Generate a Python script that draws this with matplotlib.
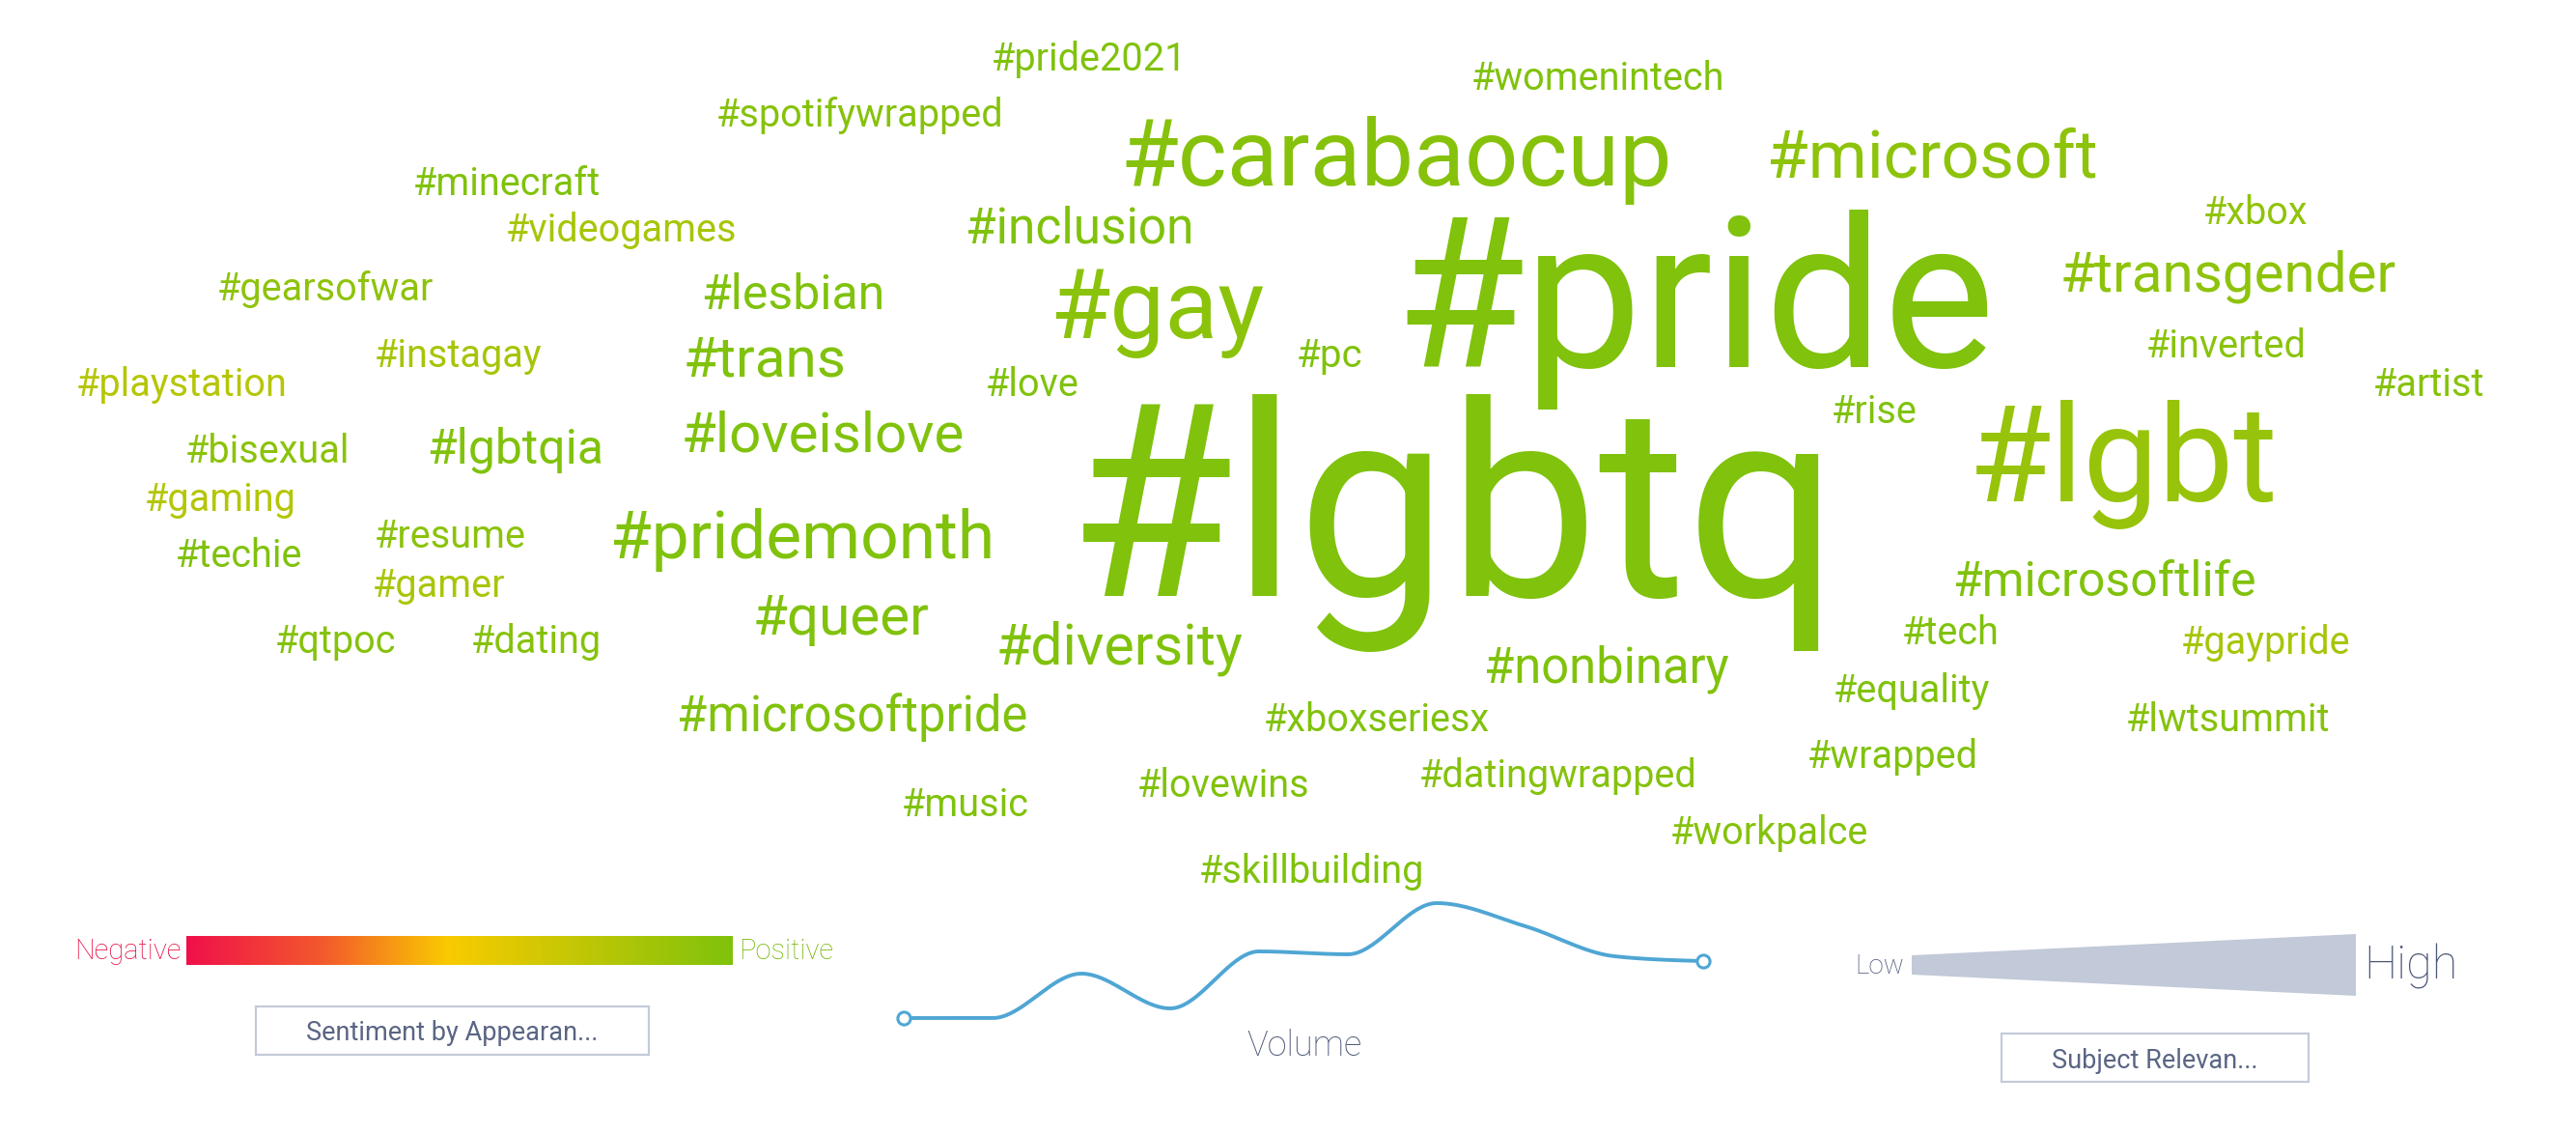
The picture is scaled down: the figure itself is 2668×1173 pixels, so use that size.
import numpy as np
import matplotlib
matplotlib.use("Agg")
import matplotlib.pyplot as plt
from matplotlib.colors import LinearSegmentedColormap
from matplotlib.patches import Rectangle, Polygon

# ---------------- data ----------------
words = ["#lgbtq", "#pride", "#lgbt", "#carabaocup", "#gay", "#microsoft",
         "#pridemonth", "#transgender", "#trans", "#loveislove", "#diversity",
         "#queer", "#inclusion", "#lesbian", "#lgbtqia", "#nonbinary",
         "#microsoftpride", "#microsoftlife",
         "#pride2021", "#womenintech", "#spotifywrapped", "#minecraft",
         "#videogames", "#xbox", "#gearsofwar", "#instagay", "#pc", "#inverted",
         "#playstation", "#love", "#artist", "#rise", "#bisexual", "#gaming",
         "#resume", "#techie", "#gamer", "#tech", "#qtpoc", "#dating",
         "#gaypride", "#equality", "#xboxseriesx", "#lwtsummit", "#wrapped",
         "#datingwrapped", "#lovewins", "#music", "#workpalce", "#skillbuilding"]

relevance = [200, 157, 100, 70, 73, 50,
             50, 42, 42, 42, 42.5,
             42, 37, 36, 36, 36.5,
             36.5, 36,
             28.5, 28.5, 28.5, 28.5,
             28.5, 28.5, 28.5, 28.5, 29, 28.5,
             28.5, 28.5, 28.5, 28.5, 28.5, 28.5,
             28.5, 28.5, 28.5, 28.5, 28.5, 28.5,
             28.5, 28.5, 28.5, 28.5, 28.5,
             28.5, 28.5, 28.5, 28.5, 28.5]

sentiment = [1.0, 1.0, 0.90, 0.97, 0.95, 0.94,
             1.0, 0.94, 1.0, 1.0, 1.0,
             1.0, 1.0, 1.0, 1.0, 1.0,
             1.0, 1.0,
             1.0, 1.0, 0.97, 1.0,
             0.83, 0.93, 0.94, 0.84, 1.0, 0.96,
             0.77, 1.0, 0.97, 1.0, 0.95, 0.78,
             0.95, 1.0, 0.82, 1.0, 0.98, 0.97,
             0.83, 1.0, 1.0, 0.97, 1.0,
             0.98, 1.0, 1.0, 0.98, 1.0]

volume = [0, 0, 46, 10, 69, 66, 119, 95, 64, 59]

# ---------------- layout (pixel positions: centre x, baseline y) ----------------
layout_x = [1505, 1755, 2199, 1446, 1198, 2001,
            831, 2308, 792, 852, 1160,
            871, 1118, 821, 534, 1664,
            883, 2179,
            1128, 1655, 891, 525,
            644, 2336, 337, 475, 1377, 2306,
            188, 1069, 2515, 1941, 277, 228,
            466, 248, 455, 2020, 347, 555,
            2347, 1980, 1426, 2307, 1960,
            1614, 1267, 1000, 1832, 1358]
layout_y = [617, 380, 519, 192, 350, 183,
            578, 302, 390, 468, 687,
            657, 251, 320, 479, 707,
            757, 617,
            73, 93, 131, 202,
            250, 232, 311, 380, 380, 370,
            410, 410, 410, 438, 479, 529,
            567, 587, 618, 667, 676, 676,
            677, 727, 757, 757, 795,
            815, 825, 845, 874, 914]

W, H = 2668, 1173
plt.rcParams['font.family'] = ['Roboto', 'DejaVu Sans']

cmap = LinearSegmentedColormap.from_list(
    "sent", [(0.0, "#f0104a"), (0.25, "#f35a2c"), (0.48, "#f9cb00"), (1.0, "#80c20c")])

fig = plt.figure(figsize=(W / 100, H / 100), dpi=100)
fig.patch.set_facecolor("white")
ax = fig.add_axes([0, 0, 1, 1])
ax.set_xlim(0, W)
ax.set_ylim(H, 0)
ax.axis("off")

for w, r, s, x, y in zip(words, relevance, sentiment, layout_x, layout_y):
    ax.text(x, y, w, fontsize=r, color=cmap(s), ha="center", va="baseline",
            fontweight="normal")

# ---------------- sentiment legend ----------------
grad = np.linspace(0, 1, 512).reshape(1, -1)
ax.imshow(grad, cmap=cmap, extent=[193, 759, 999, 969], aspect="auto",
          interpolation="bilinear")
ax.set_xlim(0, W)
ax.set_ylim(H, 0)
light = dict(fontweight="light")
ax.text(188, 993, "Negative", fontsize=21, color="#e8083f", ha="right",
        va="baseline", **light)
ax.text(765, 993, "Positive", fontsize=21, color="#74b400", ha="left",
        va="baseline", **light)
ax.add_patch(Rectangle((265, 1042), 407, 50, fill=False, edgecolor="#c3cad9", lw=1.6))
ax.text(468, 1077, "Sentiment by Appearan...", fontsize=19.5, color="#5a6584",
        ha="center", va="baseline", fontweight="normal")

# ---------------- relevance legend ----------------
ax.add_patch(Polygon([(1980, 989), (2440, 967), (2440, 1031), (1980, 1009)],
                     closed=True, facecolor="#c2c9d8", edgecolor="none"))
ax.text(1972, 1008, "Low", fontsize=20, color="#4b5777", ha="right",
        va="baseline", **light)
ax.text(2448, 1013, "High", fontsize=35, color="#4b5777", ha="left",
        va="baseline", **light)
ax.add_patch(Rectangle((2073, 1070), 318, 50, fill=False, edgecolor="#c3cad9", lw=1.6))
ax.text(2232, 1106, "Subject Relevan...", fontsize=19.5, color="#5a6584",
        ha="center", va="baseline", fontweight="normal")

# ---------------- volume sparkline ----------------
ax.text(1351, 1093, "Volume", fontsize=26, color="#4b5777", ha="center",
        va="baseline", **light)


def monotone_x(xs, ys, n=40):
    xs = np.asarray(xs, float)
    ys = np.asarray(ys, float)
    h = np.diff(xs)
    s = np.diff(ys) / h
    m = np.zeros_like(ys)
    for i in range(1, len(xs) - 1):
        p = (s[i - 1] * h[i] + s[i] * h[i - 1]) / (h[i - 1] + h[i])
        m[i] = (np.sign(s[i - 1]) + np.sign(s[i])) * min(abs(s[i - 1]), abs(s[i]), 0.5 * abs(p))
    m[0] = (3 * s[0] - m[1]) / 2 if len(xs) > 2 else s[0]
    m[-1] = (3 * s[-1] - m[-2]) / 2 if len(xs) > 2 else s[-1]
    px, py = [], []
    for i in range(len(xs) - 1):
        t = np.linspace(0, 1, n, endpoint=(i == len(xs) - 2))
        h00 = 2 * t**3 - 3 * t**2 + 1
        h10 = t**3 - 2 * t**2 + t
        h01 = -2 * t**3 + 3 * t**2
        h11 = t**3 - t**2
        px.append(xs[i] + t * h[i])
        py.append(h00 * ys[i] + h10 * h[i] * m[i] + h01 * ys[i + 1] + h11 * h[i] * m[i + 1])
    return np.concatenate(px), np.concatenate(py)


x0, x1, ybot, ytop = 936, 1764, 1054, 935
ax2 = fig.add_axes([x0 / W, (H - ybot) / H, (x1 - x0) / W, (ybot - ytop) / H])
ax2.set_xlim(0, len(volume) - 1)
ax2.set_ylim(min(volume), max(volume))
ax2.axis("off")
idx = np.arange(len(volume))
cx, cy = monotone_x(idx, volume)
ax2.plot(cx, cy, color="#4fa6d4", lw=2.8, solid_capstyle="round", clip_on=False)
ax2.plot([idx[0], idx[-1]], [volume[0], volume[-1]], ls="none", marker="o",
         markersize=9.5, markerfacecolor="white", markeredgecolor="#4fa6d4",
         markeredgewidth=2.2, clip_on=False)

fig.savefig("out.png", dpi=100, facecolor="white")
